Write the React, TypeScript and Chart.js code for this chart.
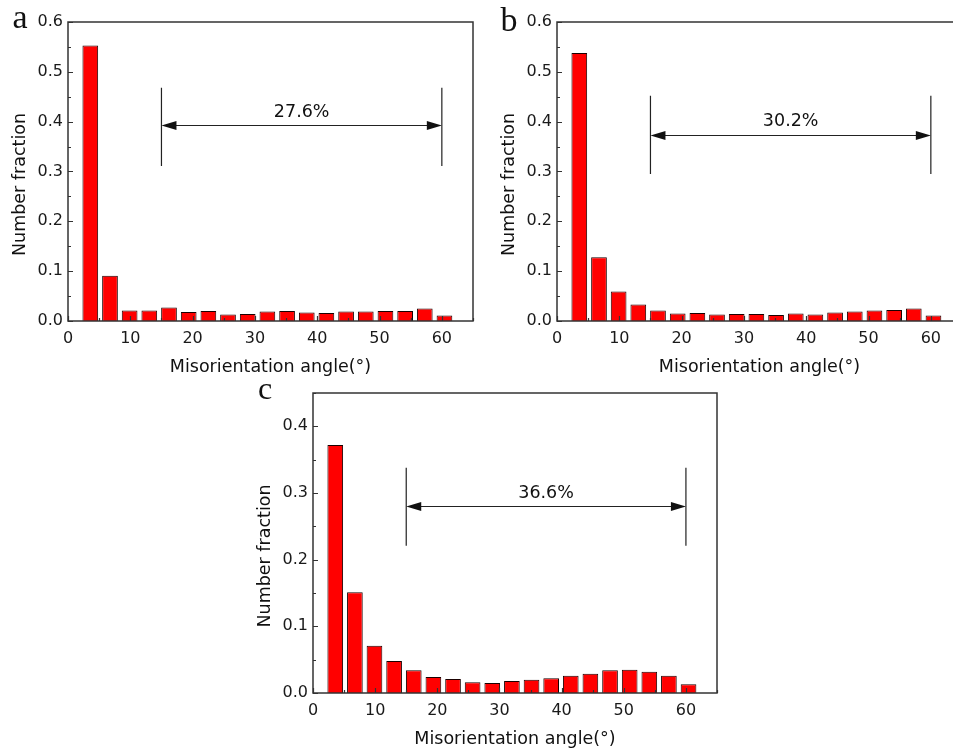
import React, { useEffect, useRef } from "react";
import { Chart, registerables } from "chart.js";

Chart.register(...registerables);

// Bin centres of the misorientation histogram (degrees), 19 bins between 2° and 62°
const binCenters = [3.58, 6.74, 9.89, 13.05, 16.21, 19.37, 22.53, 25.68, 28.84, 32.0, 35.16, 38.32, 41.47, 44.63, 47.79, 50.95, 54.11, 57.26, 60.42];

// Number fraction per bin for each sample
const fractionA = [0.553, 0.091, 0.021, 0.021, 0.027, 0.018, 0.02, 0.013, 0.014, 0.019, 0.02, 0.017, 0.016, 0.019, 0.019, 0.02, 0.02, 0.025, 0.011];
const fractionB = [0.538, 0.128, 0.059, 0.033, 0.021, 0.015, 0.016, 0.013, 0.014, 0.014, 0.012, 0.015, 0.013, 0.017, 0.019, 0.021, 0.022, 0.025, 0.011];
const fractionC = [0.372, 0.151, 0.071, 0.048, 0.034, 0.024, 0.021, 0.016, 0.015, 0.018, 0.02, 0.022, 0.026, 0.029, 0.034, 0.035, 0.032, 0.026, 0.013];

// High-angle boundary share (15°–60°) for each sample
const panelLetters = ["a", "b", "c"];
const highAngleShare = ["27.6%", "30.2%", "36.6%"];
const highAngleRange = [15, 60];
const yMaxima = [0.6, 0.6, 0.45];

const X_TITLE = "Misorientation angle(°)";
const Y_TITLE = "Number fraction";
const SANS = "'DejaVu Sans', sans-serif";
const SERIF = "'Liberation Serif', 'Times New Roman', serif";
const AXIS = "#333333";

type Panel = {
  letter: string;
  values: number[];
  share: string;
  yMax: number;
  left: number;
  top: number;
  width: number;
  height: number;
  axisW: number;
  axisH: number;
  padTop: number;
  padRight: number;
  bracket: { top: number; bottom: number; arrow: number; text: number };
  letterDy: number;
  letterSize: number;
};

const panels: Panel[] = [
  {
    letter: panelLetters[0], values: fractionA, share: highAngleShare[0], yMax: yMaxima[0],
    left: 0, top: 0, width: 478, height: 380, axisW: 68, axisH: 59, padTop: 22, padRight: 5,
    bracket: { top: 0.468, bottom: 0.311, arrow: 0.393, text: 0.418 },
    letterDy: 6, letterSize: 34,
  },
  {
    letter: panelLetters[1], values: fractionB, share: highAngleShare[1], yMax: yMaxima[1],
    left: 490, top: 0, width: 477, height: 380, axisW: 67, axisH: 59, padTop: 22, padRight: 5,
    bracket: { top: 0.452, bottom: 0.295, arrow: 0.373, text: 0.4 },
    letterDy: 9, letterSize: 34,
  },
  {
    letter: panelLetters[2], values: fractionC, share: highAngleShare[2], yMax: yMaxima[2],
    left: 245, top: 375, width: 477, height: 376, axisW: 68, axisH: 58, padTop: 18, padRight: 5,
    bracket: { top: 0.338, bottom: 0.221, arrow: 0.28, text: 0.299 },
    letterDy: 6, letterSize: 32,
  },
];

// Frame, inward ticks, titles, panel letter and the 15°–60° bracket
const decorPlugin = {
  id: "panelDecor",
  afterDatasetsDraw(chart: any, _args: any, opts: any) {
    const p: Panel = opts.panel;
    const { ctx, chartArea: ca } = chart;
    const x = chart.scales.x;
    const y = chart.scales.y;
    ctx.save();

    // inward tick marks
    ctx.strokeStyle = AXIS;
    ctx.lineWidth = 1.2;
    ctx.beginPath();
    for (let i = 0; i * 5 <= 65; i++) {
      const px = Math.round(x.getPixelForValue(i * 5)) + 0.5;
      const len = i % 2 === 0 ? 5 : 3;
      ctx.moveTo(px, ca.bottom);
      ctx.lineTo(px, ca.bottom - len);
    }
    for (let i = 0; i * 0.05 <= p.yMax + 1e-9; i++) {
      const py = Math.round(y.getPixelForValue(i * 0.05)) + 0.5;
      const len = i % 2 === 0 ? 5 : 3;
      ctx.moveTo(ca.left, py);
      ctx.lineTo(ca.left + len, py);
    }
    ctx.stroke();

    // frame
    ctx.lineWidth = 1.5;
    ctx.strokeRect(ca.left, ca.top, ca.right - ca.left, ca.bottom - ca.top);

    // bracket with double arrow
    const x1 = x.getPixelForValue(highAngleRange[0]);
    const x2 = x.getPixelForValue(highAngleRange[1]);
    const yt = y.getPixelForValue(p.bracket.top);
    const yb = y.getPixelForValue(p.bracket.bottom);
    const ya = Math.round(y.getPixelForValue(p.bracket.arrow)) + 0.5;
    ctx.strokeStyle = "#222";
    ctx.lineWidth = 1.2;
    ctx.beginPath();
    ctx.moveTo(x1, yt); ctx.lineTo(x1, yb);
    ctx.moveTo(x2, yt); ctx.lineTo(x2, yb);
    ctx.moveTo(x1 + 10, ya); ctx.lineTo(x2 - 10, ya);
    ctx.stroke();
    ctx.fillStyle = "#111";
    const head = 15, half = 4.5;
    ctx.beginPath();
    ctx.moveTo(x1, ya); ctx.lineTo(x1 + head, ya - half); ctx.lineTo(x1 + head, ya + half); ctx.closePath();
    ctx.moveTo(x2, ya); ctx.lineTo(x2 - head, ya - half); ctx.lineTo(x2 - head, ya + half); ctx.closePath();
    ctx.fill();

    ctx.fillStyle = "#111";
    ctx.font = `17.5px ${SANS}`;
    ctx.textAlign = "center";
    ctx.textBaseline = "middle";
    ctx.fillText(p.share, (x1 + x2) / 2, y.getPixelForValue(p.bracket.text));

    // axis titles
    ctx.font = `17.5px ${SANS}`;
    ctx.fillText(X_TITLE, (ca.left + ca.right) / 2, ca.bottom + 46);
    ctx.save();
    ctx.translate(ca.left - 48, (ca.top + ca.bottom) / 2 + 13);
    ctx.rotate(-Math.PI / 2);
    ctx.fillText(Y_TITLE, 0, 0);
    ctx.restore();

    // panel letter
    ctx.font = `${p.letterSize}px ${SERIF}`;
    ctx.textBaseline = "alphabetic";
    ctx.fillText(p.letter, ca.left - 48, ca.top + p.letterDy);

    ctx.restore();
  },
};

function HistogramPanel({ panel }: { panel: Panel }) {
  const ref = useRef<HTMLCanvasElement | null>(null);

  useEffect(() => {
    if (!ref.current) return;
    const chart = new Chart(ref.current, {
      type: "bar",
      data: {
        datasets: [
          {
            data: panel.values.map((v, i) => ({ x: binCenters[i], y: v })),
            backgroundColor: "#ff0000",
            borderColor: "#1a0000",
            borderWidth: 1,
            barPercentage: 0.8,
            categoryPercentage: 1,
          },
        ],
      },
      options: {
        responsive: false,
        animation: false,
        events: [],
        layout: { padding: { top: panel.padTop, right: panel.padRight, left: 0, bottom: 0 } },
        plugins: {
          legend: { display: false },
          tooltip: { enabled: false },
          panelDecor: { panel },
        } as any,
        scales: {
          x: {
            type: "linear",
            offset: false,
            min: 0,
            max: 65,
            grid: { display: false, drawTicks: false },
            border: { display: false },
            ticks: {
              stepSize: 10,
              includeBounds: false,
              padding: 8,
              maxRotation: 0,
              color: "#1a1a1a",
              font: { family: SANS, size: 16 },
            },
            afterFit: (s: any) => { s.height = panel.axisH; },
          },
          y: {
            min: 0,
            max: panel.yMax,
            grid: { display: false, drawTicks: false },
            border: { display: false },
            ticks: {
              stepSize: 0.1,
              includeBounds: false,
              padding: 5,
              color: "#1a1a1a",
              font: { family: SANS, size: 16 },
              callback: (v: any) => Number(v).toFixed(1),
            },
            afterFit: (s: any) => { s.width = panel.axisW; },
          },
        },
      },
      plugins: [decorPlugin],
    });
    return () => chart.destroy();
  }, [panel]);

  return (
    <canvas
      ref={ref}
      width={panel.width}
      height={panel.height}
      style={{ position: "absolute", left: panel.left, top: panel.top, width: panel.width, height: panel.height }}
    />
  );
}

export default function App() {
  return (
    <div
      style={{
        position: "fixed",
        left: 0,
        top: 0,
        width: 953,
        height: 751,
        overflow: "hidden",
        background: "#ffffff",
      }}
    >
      {panels.map((p) => (
        <HistogramPanel key={p.letter} panel={p} />
      ))}
    </div>
  );
}
